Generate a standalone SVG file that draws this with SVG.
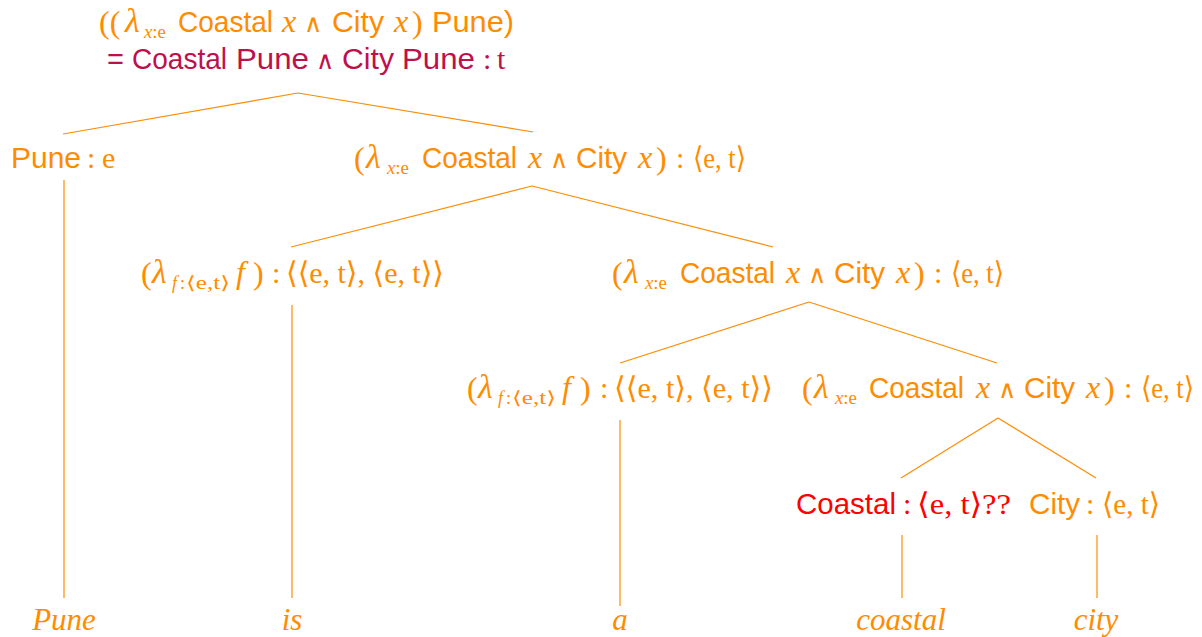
<svg xmlns="http://www.w3.org/2000/svg" width="1202" height="637" viewBox="0 0 1202 637">
<style>
.o{fill:#ff8c00}
.r{fill:#ff0000}
.c{fill:#c0104b}
.s{font-family:"Liberation Sans",Arial,sans-serif;font-size:29px}
.m{font-family:"Liberation Serif","DejaVu Serif",serif;font-size:30px}
.v{font-family:"Liberation Serif","DejaVu Serif",serif;font-size:32px;font-style:italic}
.l{font-family:"Liberation Serif","DejaVu Serif",serif;font-size:34px;font-style:italic}
.p{font-family:"Liberation Serif","DejaVu Serif",serif;font-size:32px}
.w{font-family:"DejaVu Sans",sans-serif;font-weight:200;font-size:25px}
.i{font-style:italic}
.sub{font-family:"Liberation Serif","DejaVu Serif",serif;font-size:18px}
.lf{font-family:"Liberation Serif",serif;font-style:italic;fill:#ff8c00;font-size:31px;text-anchor:middle}
#edges line{stroke:#ff8c00;stroke-width:1.2}
</style>
<rect width="1202" height="637" fill="#ffffff"/>
<g id="edges">
<line x1="298" y1="93" x2="63" y2="134"/>
<line x1="298" y1="93" x2="533" y2="132"/>
<line x1="64" y1="180" x2="64" y2="598"/>
<line x1="532" y1="186" x2="291" y2="247"/>
<line x1="532" y1="186" x2="773" y2="247"/>
<line x1="292" y1="305" x2="292" y2="598"/>
<line x1="809" y1="302" x2="620" y2="363"/>
<line x1="809" y1="302" x2="997" y2="363"/>
<line x1="620" y1="420" x2="620" y2="606"/>
<line x1="998" y1="418" x2="901" y2="478"/>
<line x1="998" y1="418" x2="1096" y2="478"/>
<line x1="902" y1="535" x2="902" y2="598"/>
<line x1="1097" y1="535" x2="1097" y2="598"/>
</g>
<g id="root">
<text class="o p" x="99" y="33">((</text>
<text class="o l" x="125" y="32">λ</text>
<text class="o sub" x="144" y="38" textLength="22" lengthAdjust="spacingAndGlyphs"><tspan class="i">x</tspan>:e</text>
<text class="o s" x="178" y="32" textLength="95" lengthAdjust="spacingAndGlyphs">Coastal</text>
<text class="o v" x="282" y="32">x</text>
<text class="o w" x="304" y="32">∧</text>
<text class="o s" x="332" y="32" textLength="52" lengthAdjust="spacingAndGlyphs">City</text>
<text class="o v" x="394" y="32">x</text>
<text class="o p" x="412" y="33">)</text>
<text class="o s" x="432" y="32" textLength="82" lengthAdjust="spacingAndGlyphs">Pune)</text>
<text class="c s" x="107" y="69">=</text>
<text class="c s" x="132" y="69" textLength="95" lengthAdjust="spacingAndGlyphs">Coastal</text>
<text class="c s" x="236" y="69" textLength="73" lengthAdjust="spacingAndGlyphs">Pune</text>
<text class="c w" x="316" y="69">∧</text>
<text class="c s" x="342" y="69" textLength="52" lengthAdjust="spacingAndGlyphs">City</text>
<text class="c s" x="402" y="69" textLength="73" lengthAdjust="spacingAndGlyphs">Pune</text>
<text class="c m" x="483" y="69">:</text>
<text class="c m" x="497" y="69">t</text>
</g>
<g id="n-pune">
<text class="o s" x="11" y="168" textLength="70" lengthAdjust="spacingAndGlyphs">Pune</text>
<text class="o m" x="87" y="168">:</text>
<text class="o m" x="102" y="168">e</text>
</g>
<g id="n-vp">
<text class="o p" x="354" y="169">(</text>
<text class="o l" x="366" y="168">λ</text>
<text class="o sub" x="387" y="174" textLength="22" lengthAdjust="spacingAndGlyphs"><tspan class="i">x</tspan>:e</text>
<text class="o s" x="422" y="168" textLength="95" lengthAdjust="spacingAndGlyphs">Coastal</text>
<text class="o v" x="528" y="168">x</text>
<text class="o w" x="550" y="168">∧</text>
<text class="o s" x="576" y="168" textLength="51" lengthAdjust="spacingAndGlyphs">City</text>
<text class="o v" x="638" y="168">x</text>
<text class="o p" x="656" y="169">)</text>
<text class="o m" x="676" y="168">:</text>
<text class="o m" x="693" y="168" textLength="53" lengthAdjust="spacingAndGlyphs">⟨e, t⟩</text>
</g>
<g id="n-is">
<text class="o p" x="141" y="284">(</text>
<text class="o l" x="152" y="283">λ</text>
<text class="o sub i" x="172" y="289">f</text>
<text class="o sub" x="180" y="289">:</text>
<text class="o sub" x="186" y="289" textLength="44" lengthAdjust="spacingAndGlyphs">⟨e,t⟩</text>
<text class="o v" x="236" y="283">f</text>
<text class="o p" x="253" y="284">)</text>
<text class="o m" x="272" y="283">:</text>
<text class="o m" x="286" y="283" textLength="158" lengthAdjust="spacingAndGlyphs">⟨⟨e, t⟩, ⟨e, t⟩⟩</text>
</g>
<g id="n-np">
<text class="o p" x="612" y="284">(</text>
<text class="o l" x="624" y="283">λ</text>
<text class="o sub" x="645" y="289" textLength="22" lengthAdjust="spacingAndGlyphs"><tspan class="i">x</tspan>:e</text>
<text class="o s" x="680" y="283" textLength="95" lengthAdjust="spacingAndGlyphs">Coastal</text>
<text class="o v" x="786" y="283">x</text>
<text class="o w" x="808" y="283">∧</text>
<text class="o s" x="834" y="283" textLength="51" lengthAdjust="spacingAndGlyphs">City</text>
<text class="o v" x="896" y="283">x</text>
<text class="o p" x="914" y="284">)</text>
<text class="o m" x="934" y="283">:</text>
<text class="o m" x="951" y="283" textLength="53" lengthAdjust="spacingAndGlyphs">⟨e, t⟩</text>
</g>
<g id="n-a">
<text class="o p" x="467" y="399">(</text>
<text class="o l" x="478" y="398">λ</text>
<text class="o sub i" x="498" y="404">f</text>
<text class="o sub" x="506" y="404">:</text>
<text class="o sub" x="512" y="404" textLength="44" lengthAdjust="spacingAndGlyphs">⟨e,t⟩</text>
<text class="o v" x="562" y="398">f</text>
<text class="o p" x="580" y="399">)</text>
<text class="o m" x="600" y="398">:</text>
<text class="o m" x="614" y="398" textLength="159" lengthAdjust="spacingAndGlyphs">⟨⟨e, t⟩, ⟨e, t⟩⟩</text>
</g>
<g id="n-nbar">
<text class="o p" x="802" y="399">(</text>
<text class="o l" x="814" y="398">λ</text>
<text class="o sub" x="835" y="404" textLength="22" lengthAdjust="spacingAndGlyphs"><tspan class="i">x</tspan>:e</text>
<text class="o s" x="869" y="398" textLength="95" lengthAdjust="spacingAndGlyphs">Coastal</text>
<text class="o v" x="976" y="398">x</text>
<text class="o w" x="998" y="398">∧</text>
<text class="o s" x="1024" y="398" textLength="51" lengthAdjust="spacingAndGlyphs">City</text>
<text class="o v" x="1086" y="398">x</text>
<text class="o p" x="1104" y="399">)</text>
<text class="o m" x="1124" y="398">:</text>
<text class="o m" x="1141" y="398" textLength="53" lengthAdjust="spacingAndGlyphs">⟨e, t⟩</text>
</g>
<g id="n-coastal">
<text class="r s" x="796" y="514" textLength="100" lengthAdjust="spacingAndGlyphs">Coastal</text>
<text class="r m" x="903" y="514">:</text>
<text class="r m" x="917" y="514" textLength="94" lengthAdjust="spacingAndGlyphs">⟨e, t⟩??</text>
</g>
<g id="n-city">
<text class="o s" x="1029" y="514" textLength="51" lengthAdjust="spacingAndGlyphs">City</text>
<text class="o m" x="1086" y="514">:</text>
<text class="o m" x="1102" y="514" textLength="58" lengthAdjust="spacingAndGlyphs">⟨e, t⟩</text>
</g>
<g id="leaves">
<text x="64" y="630" class="lf">Pune</text>
<text x="292" y="630" class="lf">is</text>
<text x="620" y="630" class="lf">a</text>
<text x="901" y="630" class="lf">coastal</text>
<text x="1096" y="630" class="lf">city</text>
</g>
</svg>
